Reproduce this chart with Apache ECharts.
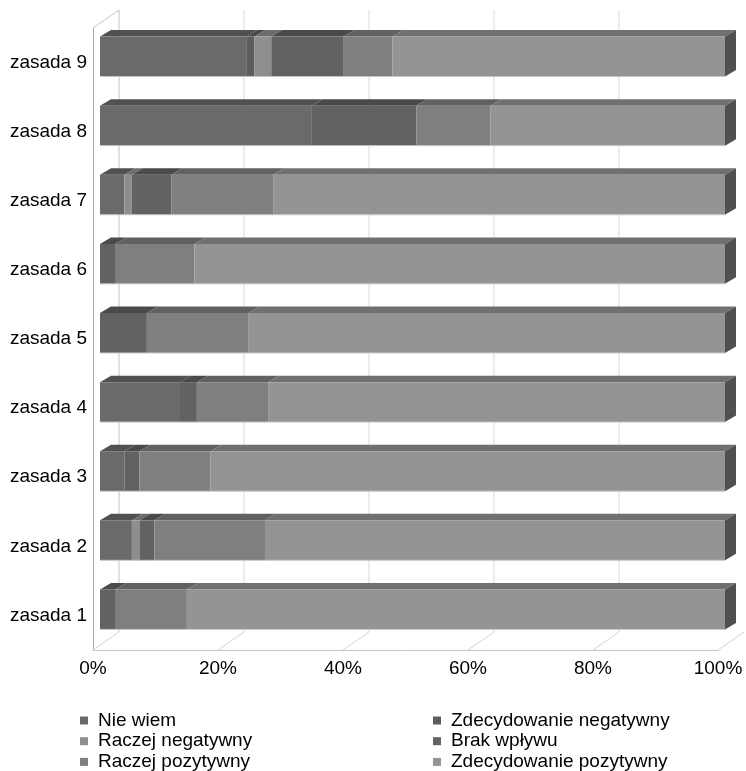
<!DOCTYPE html>
<html>
<head>
<meta charset="utf-8">
<script src="https://cdn.jsdelivr.net/npm/echarts@6/dist/echarts.min.js"></script>
<style>
html,body{margin:0;padding:0;background:#fff;}
#chart{width:746px;height:771px;}
</style>
</head>
<body>
<div id="chart"></div>
<script>
// ---- data (index 0 = bottom category) ----
const categories = ['zasada 1','zasada 2','zasada 3','zasada 4','zasada 5','zasada 6','zasada 7','zasada 8','zasada 9'];
const seriesNames = ['Nie wiem','Zdecydowanie negatywny','Raczej negatywny','Brak wpływu','Raczej pozytywny','Zdecydowanie pozytywny'];
const nieWiem            = [0, 5.1, 3.9, 12.8, 0, 0, 3.9, 33.9, 23.5];
const zdecNegatywny      = [0, 0, 0, 0, 0, 0, 0, 0, 1.2];
const raczejNegatywny    = [0, 1.2, 0, 0, 0, 0, 1.2, 0, 2.7];
const brakWplywu         = [2.4, 2.4, 2.4, 2.7, 7.5, 2.4, 6.3, 16.7, 11.6];
const raczejPozytywny    = [11.5, 17.7, 11.4, 11.4, 16.3, 12.7, 16.3, 11.9, 7.8];
const zdecPozytywny      = [86.1, 73.6, 82.3, 73.1, 76.2, 84.9, 72.3, 37.5, 53.2];
const xTicks = [0, 20, 40, 60, 80, 100];

// ---- styles ----
const colors = ['#6a6a6a','#5d5d5d','#8e8e8e','#626262','#7f7f7f','#949494'];
const FONT = 'Liberation Sans, Arial, sans-serif';
const OX = 7, OY = -6;      // bar offset into depth
const DX = 11, DY = 6.5;    // bar 3D depth
const WX = 26, WY = 18;     // wall depth

function shade(hex, f){
  const n = parseInt(hex.slice(1),16);
  const r = Math.round(((n>>16)&255)*f), g = Math.round(((n>>8)&255)*f), b = Math.round((n&255)*f);
  return 'rgb('+r+','+g+','+b+')';
}

const values = [nieWiem, zdecNegatywny, raczejNegatywny, brakWplywu, raczejPozytywny, zdecPozytywny];
const cum = categories.map(() => 0);
const barSeries = values.map((arr, si) => {
  const data = arr.map((v, ci) => {
    const s = cum[ci];
    cum[ci] += v;
    return [s, s + v, ci];
  });
  const col = colors[si];
  return {
    type: 'custom',
    name: seriesNames[si],
    coordinateSystem: 'cartesian2d',
    itemStyle: { color: col },
    encode: { x: [0, 1], y: 2 },
    z: 3,
    data: data,
    renderItem: function(params, api){
      const start = api.value(0), end = api.value(1), cat = api.value(2);
      if (end - start <= 0) return null;
      const p0 = api.coord([start, cat]);
      const p1 = api.coord([end, cat]);
      const band = api.size([0, 1])[1];
      const h = band * 0.578;
      const x0 = p0[0] + OX, x1 = p1[0] + OX;
      const yT = p0[1] + OY - h / 2, yB = yT + h;
      const children = [
        { type: 'polygon', shape: { points: [[x0, yT], [x0 + DX, yT - DY], [x1 + DX, yT - DY], [x1, yT]] },
          style: { fill: shade(col, 0.76) } },
        { type: 'rect', shape: { x: x0, y: yT, width: x1 - x0, height: h },
          style: { fill: col } },
        { type: 'line', shape: { x1: x0, y1: yB, x2: x1, y2: yB },
          style: { stroke: '#c8c8c8', lineWidth: 1 } }
      ];
      if (end >= 99.9) {
        children.push({ type: 'polygon', shape: { points: [[x1, yT], [x1 + DX, yT - DY], [x1 + DX, yB - DY], [x1, yB]] },
          style: { fill: shade(col, 0.54) } });
      }
      return { type: 'group', children: children };
    }
  };
});

const frameSeries = {
  type: 'custom',
  name: 'frame',
  coordinateSystem: 'cartesian2d',
  encode: { x: 0, y: 1 },
  z: 1,
  silent: true,
  data: xTicks.map(v => [v, 0]),
  renderItem: function(params, api){
    const cs = params.coordSys;
    const v = api.value(0);
    const x = api.coord([v, 0])[0];
    const bottom = cs.y + cs.height, top = cs.y;
    const children = [
      { type: 'line', shape: { x1: x, y1: bottom, x2: x + WX, y2: bottom - WY },
        style: { stroke: '#d4d4d4', lineWidth: 1 } }
    ];
    if (v < 100) {
      children.push({ type: 'line', shape: { x1: x + WX, y1: bottom - WY, x2: x + WX, y2: top - WY },
        style: { stroke: v === 0 ? '#c4c4c4' : '#d9d9d9', lineWidth: 1 } });
    }
    if (v === 0) {
      children.push({ type: 'line', shape: { x1: x, y1: top, x2: x + WX, y2: top - WY },
        style: { stroke: '#c4c4c4', lineWidth: 1 } });
    }
    return { type: 'group', children: children };
  }
};

const legendCommon = {
  orient: 'vertical', top: 711, height: 62, padding: 0, itemGap: 1.7,
  itemWidth: 8, itemHeight: 8, icon: 'rect',
  textStyle: { color: '#000', fontSize: 19, lineHeight: 19, fontFamily: FONT, padding: [0, 0, 0, 5] }
};

const chart = echarts.init(document.getElementById('chart'), null, { renderer: 'canvas' });
chart.setOption({
  animation: false,
  backgroundColor: '#ffffff',
  textStyle: { fontFamily: FONT },
  grid: { left: 93, right: 28, top: 28, bottom: 121, containLabel: false },
  xAxis: {
    type: 'value', min: 0, max: 100, interval: 20,
    axisLine: { show: true, lineStyle: { color: '#c4c4c4', width: 1 } },
    axisTick: { show: false },
    splitLine: { show: false },
    axisLabel: { formatter: '{value}%', color: '#000', fontSize: 19, fontFamily: FONT, margin: 9 }
  },
  yAxis: {
    type: 'category', data: categories,
    axisLine: { show: true, lineStyle: { color: '#a8a8a8', width: 1 } },
    axisTick: { show: false },
    splitLine: { show: false },
    axisLabel: { color: '#000', fontSize: 19, fontFamily: FONT, margin: 6 }
  },
  legend: [
    Object.assign({}, legendCommon, { left: 80, data: [seriesNames[0], seriesNames[2], seriesNames[4]] }),
    Object.assign({}, legendCommon, { left: 433, data: [seriesNames[1], seriesNames[3], seriesNames[5]] })
  ],
  series: [frameSeries].concat(barSeries)
});
</script>
</body>
</html>
